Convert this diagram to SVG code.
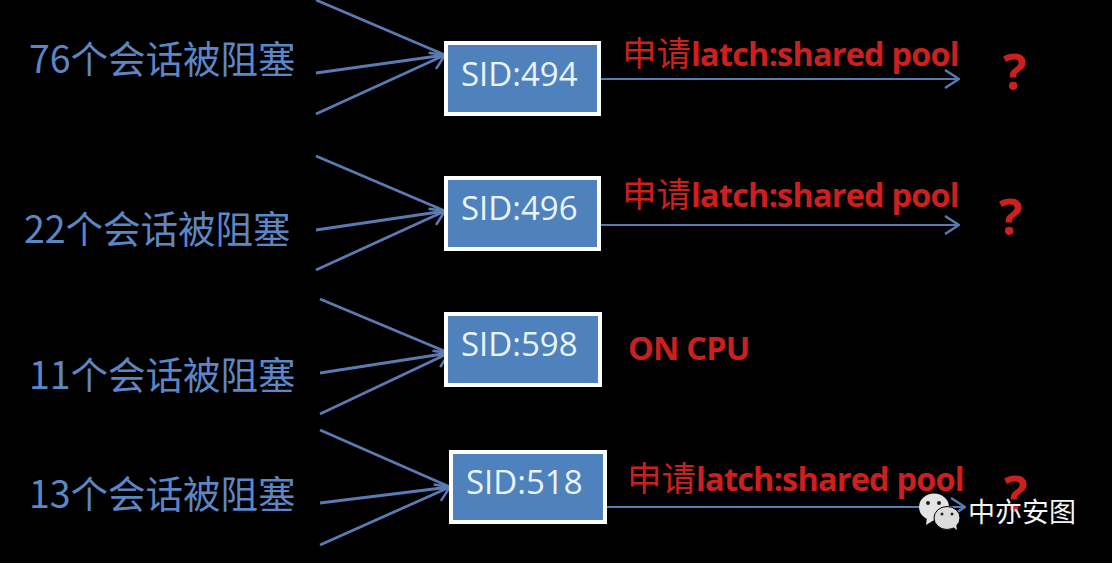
<svg xmlns="http://www.w3.org/2000/svg" width="1112" height="563" viewBox="0 0 1112 563">
<style>
.c{fill:none;stroke:#5a7ab2;stroke-width:2}
.t{stroke-width:2.800}
.n rect{fill:#4f81bd;stroke:#fff;stroke-width:4}
.n text{font:33px "Open Sans","Noto Sans",sans-serif;fill:#e8f4fb}
.l{font:37.500px "Noto Sans CJK SC","Open Sans",sans-serif;fill:#5d86c4}
.r{font:bold 32.500px "Open Sans","Noto Sans CJK SC",sans-serif;fill:#cc1f1f;letter-spacing:-.82px}
.r .h{font:34.500px "Noto Sans CJK SC",sans-serif;letter-spacing:0}
.q{font:bold 50px "Open Sans",sans-serif;fill:#cc1f1f}
</style>
<defs><marker id="a" viewBox="0 0 16 20" markerUnits="userSpaceOnUse" refX="15" refY="10" markerWidth="16" markerHeight="20" orient="auto"><path d="M1 1L15 10L1 19" fill="none" stroke="#5a7ab2" stroke-width="2.500"/></marker></defs>
<rect width="1112" height="563" fill="#000"/>
<g id="connectors">
<path class="c t" marker-end="url(#a)" d="M316 0L445 55M316 73L445 55M316 114L445 55"/>
<path class="c t" marker-end="url(#a)" d="M316 156L445 211M316 230L445 211M316 270L445 211"/>
<path class="c t" marker-end="url(#a)" d="M320 299L449 353M320 373L449 353M320 414L449 353"/>
<path class="c t" marker-end="url(#a)" d="M320 430L450 487M320 503L450 487M320 545L450 487"/>
<path class="c" marker-end="url(#a)" d="M600 79H959"/>
<path class="c" marker-end="url(#a)" d="M600 225H959"/>
<path class="c" marker-end="url(#a)" d="M606 507H965"/>
</g>
<g id="n1" class="n"><rect x="446" y="43" width="153" height="71"/><text x="461" y="86">SID:494</text></g>
<g id="n2" class="n"><rect x="446" y="178" width="153" height="71"/><text x="461" y="220">SID:496</text></g>
<g id="n3" class="n"><rect x="446" y="314" width="154" height="71"/><text x="461" y="356">SID:598</text></g>
<g id="n4" class="n"><rect x="451" y="452" width="154" height="70"/><text x="466" y="494">SID:518</text></g>
<g id="labels">
<text class="l" x="29" y="73">76个会话被阻塞</text>
<text class="l" x="24" y="243">22个会话被阻塞</text>
<text class="l" x="29" y="389">11个会话被阻塞</text>
<text class="l" x="29" y="508">13个会话被阻塞</text>
<text class="r" x="622" y="66"><tspan class="h">申请</tspan>latch:shared pool</text>
<text class="r" x="622" y="207"><tspan class="h">申请</tspan>latch:shared pool</text>
<text class="r" x="628" y="360">ON CPU</text>
<text class="r" x="627" y="491"><tspan class="h">申请</tspan>latch:shared pool</text>
<text class="q" x="1003" y="90">?</text>
<text class="q" x="999" y="235">?</text>
<text class="q" x="1004" y="512">?</text>
</g>
<g id="watermark">
<ellipse cx="934" cy="507" rx="15" ry="13.500" fill="#e4e4e4"/><path d="M927 517l-1 8 8-5z" fill="#e4e4e4"/>
<ellipse cx="947" cy="518" rx="13" ry="11.500" fill="#dcdcdc" stroke="#000"/><path d="M953 527l4 3-1-6z" fill="#dcdcdc"/>
<circle cx="928" cy="503" r="2" fill="#222"/><circle cx="939" cy="503" r="2" fill="#222"/><circle cx="942" cy="514" r="1.500" fill="#222"/><circle cx="952" cy="514" r="1.500" fill="#222"/>
<text x="968" y="522" style="font:27px 'Noto Sans CJK SC',sans-serif;fill:#f4f4f4">中亦安图</text>
</g>
</svg>
